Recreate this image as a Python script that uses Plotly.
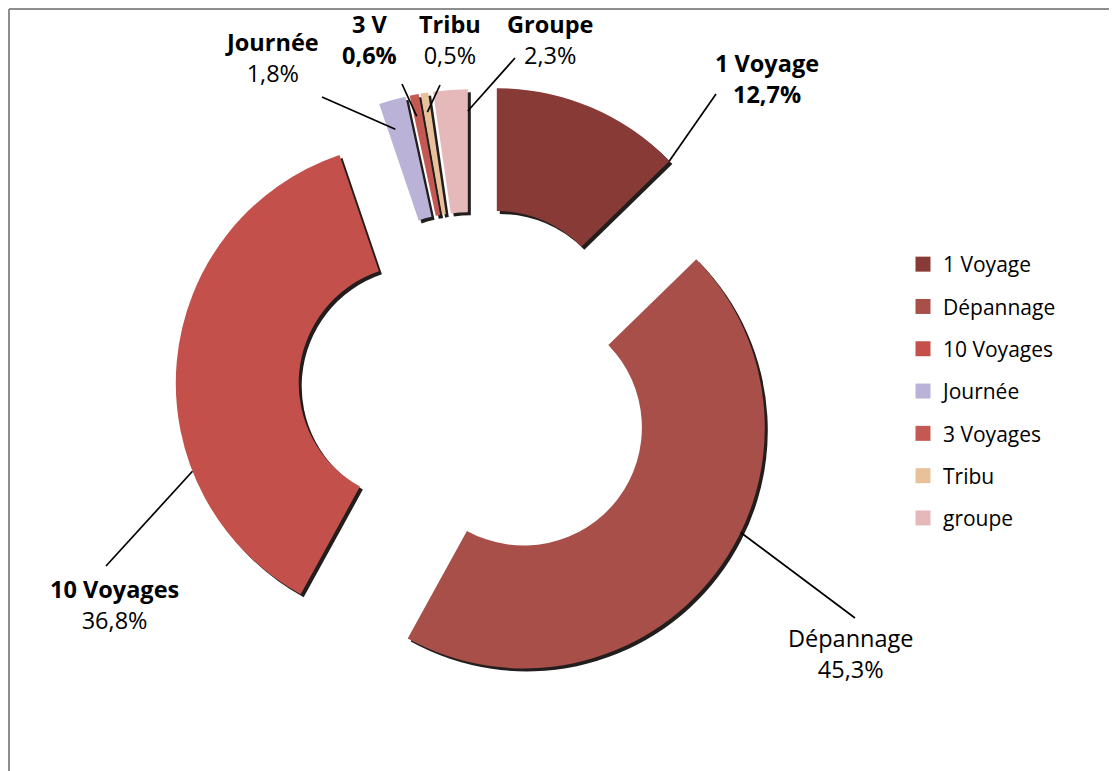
import math
import plotly.graph_objects as go

# ---------------- data ----------------
categories = ["1 Voyage", "Dépannage", "10 Voyages", "Journée", "3 Voyages", "Tribu", "groupe"]
shares = [12.7, 45.3, 36.8, 1.8, 0.6, 0.5, 2.3]
label_names = ["1 Voyage", "Dépannage", "10 Voyages", "Journée", "3 V", "Tribu", "Groupe"]
label_values = ["12,7%", "45,3%", "36,8%", "1,8%", "0,6%", "0,5%", "2,3%"]
name_bold = [True, False, True, True, True, True, True]
value_bold = [True, False, False, False, True, False, False]

# ---------------- style ----------------
colors = ["#873a36", "#a84f49", "#c3504b", "#bab3d7", "#c45853", "#e8c19b", "#e5b9b9"]
pulls = [0.265, 0.27, 0.23, 0.24, 0.24, 0.24, 0.24]
OFF = 8                     # page body margin of the html page
W, H = 1117 - OFF, 771 - OFF
CX, CY = 472, 388           # pie centre (page px)
R = 241                     # outer radius (px)
HOLE = 0.49
FONT = "Open Sans"

half = R * (1 + max(pulls))


def px(x):
    return (x - OFF) / W


def py(y):
    return 1 - (y - OFF) / H


def dom(cx, cy):
    return dict(x=[px(cx - half), px(cx + half)], y=[py(cy + half), py(cy - half)])


fig = go.Figure()

# shadow ring (offset down-right)
fig.add_trace(go.Pie(
    labels=categories, values=shares, sort=False, direction="clockwise", rotation=0,
    hole=HOLE, pull=pulls, domain=dom(CX + 3, CY + 3),
    marker=dict(colors=["rgba(10,5,5,0.9)"] * len(shares), line=dict(width=0)),
    textinfo="none", hoverinfo="skip", showlegend=False,
))
# main ring
fig.add_trace(go.Pie(
    labels=categories, values=shares, sort=False, direction="clockwise", rotation=0,
    hole=HOLE, pull=pulls, domain=dom(CX, CY),
    marker=dict(colors=colors, line=dict(width=0)),
    textinfo="none", showlegend=False,
))

# legend entries
for i, (c, col) in enumerate(zip(categories, colors)):
    fig.add_trace(go.Scatter(
        x=[None], y=[None], mode="markers", name=c, legendgroup=f"g{i}",
        marker=dict(symbol="square", size=15, color=col),
    ))

# geometry helpers for leader lines
total = sum(shares)
starts = []
acc = 0.0
for s in shares:
    starts.append(acc)
    acc += s / total * 360.0


def pt(i, frac, rf):
    bis = math.radians(starts[i] + shares[i] / total * 180.0)
    sx = CX + pulls[i] * R * math.sin(bis)
    sy = CY - pulls[i] * R * math.cos(bis)
    th = math.radians(starts[i] + frac * shares[i] / total * 360.0)
    return sx + rf * R * math.sin(th), sy - rf * R * math.cos(th)


# (slice index, fraction along slice, radius factor, line end px, label centre px)
leaders = [
    (0, 1.00, 1.00, (716, 94), (767, 78)),
    (1, 0.43, 1.00, (855, 618), (851, 653)),
    (2, 0.30, 1.00, (106, 566), (114, 604)),
    (3, 0.30, 0.88, (322, 97), (272, 57)),
    (4, 0.30, 0.91, (402, 84), (369, 40)),
    (5, 0.50, 0.92, (440, 85), (450, 40)),
    (6, 1.00, 0.91, (515, 58), (550, 40)),
]

shapes = []
annotations = []
for i, frac, rf, (ex, ey), (lx, ly) in leaders:
    x0, y0 = pt(i, frac, rf)
    shapes.append(dict(type="line", xref="paper", yref="paper",
                       x0=px(x0), y0=py(y0), x1=px(ex), y1=py(ey),
                       line=dict(color="black", width=1.7)))
    n = f"<b>{label_names[i]}</b>" if name_bold[i] else label_names[i]
    v = f"<b>{label_values[i]}</b>" if value_bold[i] else label_values[i]
    annotations.append(dict(xref="paper", yref="paper", x=px(lx), y=py(ly),
                            text=f"{n}<br>{v}", showarrow=False, align="center",
                            xanchor="center", yanchor="middle",
                            font=dict(family=FONT, size=23.5, color="black")))

# outer frame (top and left edges visible)
shapes.append(dict(type="line", xref="paper", yref="paper", x0=1 / W, y0=1 - 1 / H,
                   x1=1.01, y1=1 - 1 / H, line=dict(color="#8e8e8e", width=2)))
shapes.append(dict(type="line", xref="paper", yref="paper", x0=1 / W, y0=1 - 1 / H,
                   x1=1 / W, y1=-0.01, line=dict(color="#8e8e8e", width=2)))

fig.update_layout(
    width=W, height=H,
    margin=dict(l=0, r=0, t=0, b=0, pad=0),
    paper_bgcolor="white", plot_bgcolor="white",
    xaxis=dict(visible=False), yaxis=dict(visible=False),
    shapes=shapes, annotations=annotations,
    showlegend=True,
    legend=dict(x=px(903), y=py(244), xanchor="left", yanchor="top",
                font=dict(family=FONT, size=21, color="black"),
                tracegroupgap=12, bgcolor="rgba(0,0,0,0)"),
    font=dict(family=FONT),
)

fig.write_html("out.html")
